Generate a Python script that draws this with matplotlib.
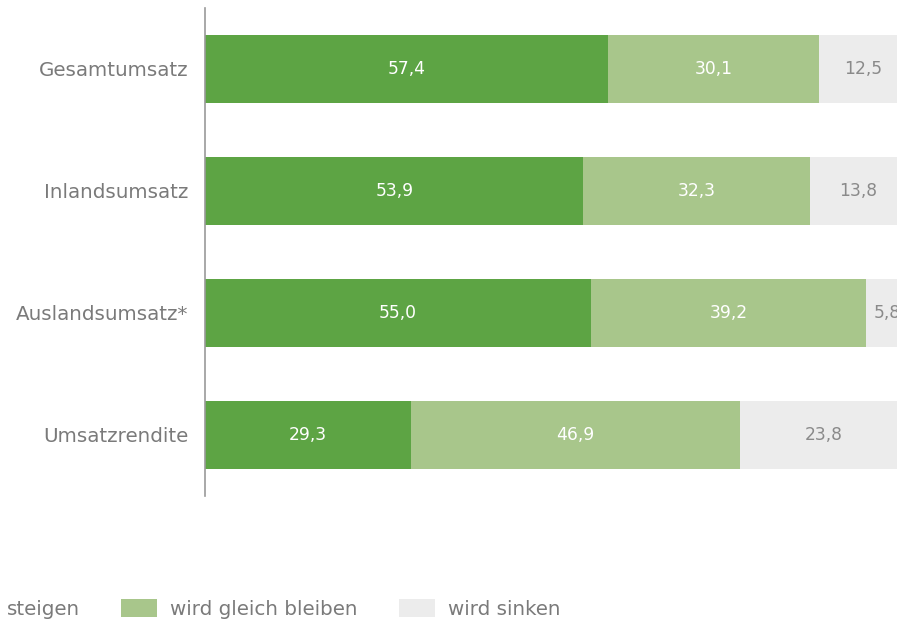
import matplotlib
matplotlib.use("Agg")
import matplotlib.pyplot as plt
from matplotlib.patches import Patch

categories = ["Gesamtumsatz", "Inlandsumsatz", "Auslandsumsatz*", "Umsatzrendite"]
steigen = [57.4, 53.9, 55.0, 29.3]
gleich = [30.1, 32.3, 39.2, 46.9]
sinken = [12.5, 13.8, 5.8, 23.8]
series_names = ["steigen", "wird gleich bleiben", "wird sinken"]

colors = ["#5da444", "#a8c68b", "#ececec"]
text_colors = ["white", "white", "#8a8a8a"]

fig = plt.figure(figsize=(8.97, 6.23), dpi=100)
ax = fig.add_axes([205/897, (623-496)/623, 702/897, 488/623])

ypos = list(range(len(categories)))
left = [0.0]*len(categories)
for vals, c, tc in zip([steigen, gleich, sinken], colors, text_colors):
    bars = ax.barh(ypos, vals, left=left, height=0.557, color=c, edgecolor="none")
    for b, v in zip(bars, vals):
        ax.text(b.get_x() + b.get_width()/2, b.get_y() + b.get_height()/2,
                f"{v:.1f}".replace(".", ","), ha="center", va="center",
                color=tc, fontsize=12.3)
    left = [l + v for l, v in zip(left, vals)]

ax.set_xlim(0, 100)
ax.set_ylim(3.5, -0.5)
ax.set_yticks(ypos)
ax.set_yticklabels(categories, fontsize=14.3, color="#7a7a7a")
ax.tick_params(axis="y", length=0, pad=12)
ax.set_xticks([])
for s in ["top", "right", "bottom"]:
    ax.spines[s].set_visible(False)
ax.spines["left"].set_color("#9a9a9a")
ax.spines["left"].set_linewidth(1.2)

handles = [Patch(facecolor=c, edgecolor="none") for c in colors]
leg = fig.legend(handles, series_names, loc="center left",
                 bbox_to_anchor=(-42/897, (623-609)/623), ncol=3, frameon=False,
                 fontsize=14.3, handlelength=1.8, handleheight=1.0,
                 columnspacing=2.1, handletextpad=0.65, borderaxespad=0, borderpad=0)
for t in leg.get_texts():
    t.set_color("#7a7a7a")

fig.savefig("out.png", dpi=100)
